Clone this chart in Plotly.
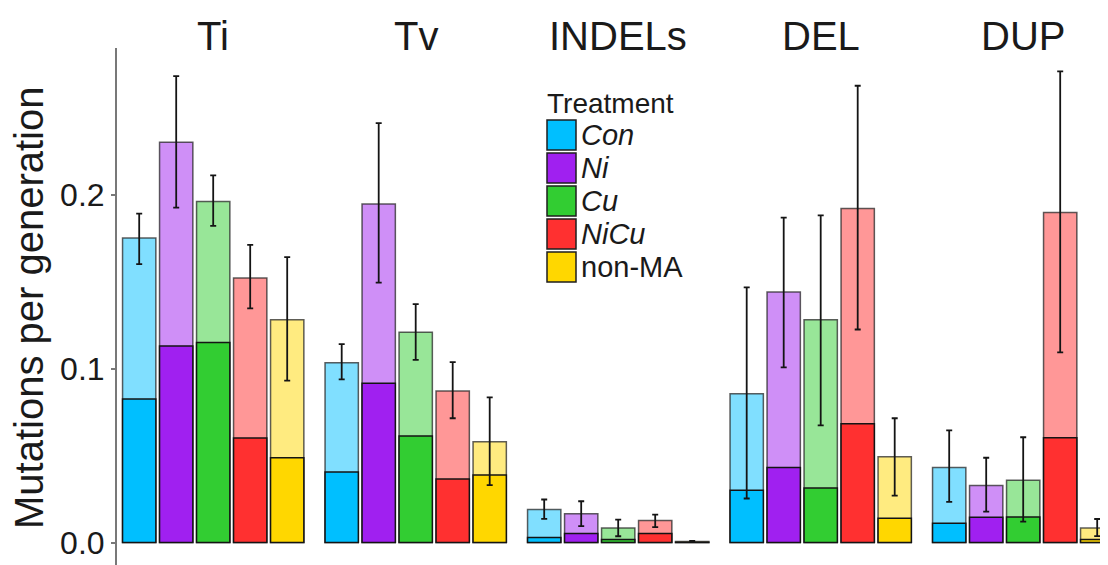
import plotly.graph_objects as go
from plotly.subplots import make_subplots

# ---------------- data ----------------
categories = ["Ti", "Tv", "INDELs", "DEL", "DUP"]
treatments = ["Con", "Ni", "Cu", "NiCu", "non-MA"]
legend_labels = ["<i>Con</i>", "<i>Ni</i>", "<i>Cu</i>", "<i>NiCu</i>", "non-MA"]

# total rate per generation (light bars), one list per treatment, across categories
total_con = [0.175, 0.1033, 0.019, 0.0855, 0.0431]
total_ni = [0.230, 0.1945, 0.0165, 0.1439, 0.0327]
total_cu = [0.196, 0.1208, 0.0084, 0.128, 0.0358]
total_nicu = [0.152, 0.0871, 0.0126, 0.192, 0.1897]
total_nonma = [0.128, 0.0579, 0.0006, 0.0493, 0.0083]

# lower (solid) part
part_con = [0.0824, 0.0405, 0.0029, 0.030, 0.011]
part_ni = [0.113, 0.0915, 0.0052, 0.0431, 0.0145]
part_cu = [0.115, 0.0612, 0.0017, 0.0313, 0.0147]
part_nicu = [0.060, 0.0365, 0.0052, 0.0683, 0.0602]
part_nonma = [0.0487, 0.0388, 0.0002, 0.0139, 0.0017]

# error bar limits
hi_con = [0.189, 0.114, 0.0247, 0.1466, 0.0644]
hi_ni = [0.268, 0.241, 0.0237, 0.1867, 0.0487]
hi_cu = [0.211, 0.137, 0.0132, 0.188, 0.0605]
hi_nicu = [0.171, 0.1037, 0.016, 0.2625, 0.2708]
hi_nonma = [0.164, 0.0834, 0.0009, 0.0714, 0.0135]

lo_con = [0.160, 0.0938, 0.0136, 0.0253, 0.0234]
lo_ni = [0.1925, 0.1493, 0.0094, 0.1006, 0.0178]
lo_cu = [0.182, 0.1049, 0.0036, 0.0673, 0.012]
lo_nicu = [0.1346, 0.0714, 0.0088, 0.1224, 0.1093]
lo_nonma = [0.093, 0.033, 0.0003, 0.0269, 0.0037]

y_ticks = [0.0, 0.1, 0.2]
y_ticklabels = ["0.0", "0.1", "0.2"]

totals = [total_con, total_ni, total_cu, total_nicu, total_nonma]
parts = [part_con, part_ni, part_cu, part_nicu, part_nonma]
his = [hi_con, hi_ni, hi_cu, hi_nicu, hi_nonma]
los = [lo_con, lo_ni, lo_cu, lo_nicu, lo_nonma]

solid_colors = ["rgb(0,191,255)", "rgb(160,32,240)", "rgb(50,205,50)",
                "rgb(255,48,48)", "rgb(255,215,0)"]
light_colors = ["rgb(128,223,255)", "rgb(207,143,247)", "rgb(152,230,152)",
                "rgb(255,151,151)", "rgb(255,235,128)"]

# ---------------- layout geometry (page pixels) ----------------
OFF = 8                      # default body margin of the html page
PAGE_W, PAGE_H = 1108, 565
W, H = PAGE_W - OFF, PAGE_H - OFF
AX_X = 117                   # page x of the y axis
TOP_Y = 48                   # page y of the panel top
ZERO_Y = 542.5               # page y of value 0
PX_PER_UNIT_Y = 1740.0       # px per 1.0 of y
ML = AX_X - OFF
MT = TOP_Y - OFF
MB = 0
PW = W - ML
PH = H - MT - MB
unit = 37.0          # px per category unit
pitch = 202.5        # px between facet panels
panel_w = 5.2 * unit

FONT = "Liberation Sans, Arial, Helvetica, sans-serif"


def px_x(px):
    """page x -> paper x"""
    return (px - AX_X) / PW


def px_y(py):
    """page y -> paper y"""
    return (PAGE_H - py) / PH


fig = make_subplots(rows=1, cols=5, shared_yaxes=True, horizontal_spacing=0.01)

for j, cat in enumerate(categories):
    col = j + 1
    tot = [totals[i][j] for i in range(5)]
    prt = [parts[i][j] for i in range(5)]
    hi = [his[i][j] for i in range(5)]
    lo = [los[i][j] for i in range(5)]
    fig.add_trace(go.Bar(
        x=treatments, y=tot, width=0.9,
        marker=dict(color=light_colors, line=dict(color="rgba(40,40,40,0.75)", width=1.5)),
        showlegend=False, hoverinfo="skip"), row=1, col=col)
    fig.add_trace(go.Bar(
        x=treatments, y=prt, width=0.9,
        marker=dict(color=solid_colors, line=dict(color="rgb(20,20,20)", width=1.5)),
        showlegend=False, hoverinfo="skip"), row=1, col=col)
    fig.add_trace(go.Scatter(
        x=treatments, y=tot, mode="markers",
        marker=dict(size=1, color="rgba(0,0,0,0)"),
        error_y=dict(type="data", symmetric=False,
                     array=[h - t for h, t in zip(hi, tot)],
                     arrayminus=[t - l for t, l in zip(tot, lo)],
                     color="rgb(20,20,20)", thickness=1.8, width=3),
        showlegend=False, hoverinfo="skip"), row=1, col=col)

ymin = -(PAGE_H - ZERO_Y) / PX_PER_UNIT_Y
ymax = (ZERO_Y - TOP_Y) / PX_PER_UNIT_Y

for j in range(5):
    left = AX_X + pitch * j
    right = min(left + panel_w, PAGE_W)
    d0 = px_x(left)
    d1 = min(px_x(right), 1.0)
    xr_end = -0.6 + (right - left) / unit
    key = "xaxis" if j == 0 else f"xaxis{j+1}"
    fig.layout[key].update(domain=[d0, d1], range=[-0.6, xr_end],
                           showticklabels=False, ticks="", showgrid=False,
                           zeroline=False, showline=False, fixedrange=True)
    # facet title
    fig.add_annotation(text=categories[j], xref="paper", yref="paper",
                       x=px_x(left + panel_w / 2), y=px_y(36),
                       xanchor="center", yanchor="middle",
                       showarrow=False, font=dict(family=FONT, size=40, color="#1a1a1a"))

fig.update_yaxes(range=[ymin, ymax], showgrid=False, zeroline=False, fixedrange=True)
fig.layout.yaxis.update(showline=True, linecolor="rgb(120,120,120)", linewidth=2,
                        ticks="outside", ticklen=4, tickwidth=1.5, tickcolor="rgb(120,120,120)",
                        tickvals=y_ticks, ticktext=y_ticklabels, ticklabelstandoff=0,
                        tickfont=dict(family=FONT, size=32, color="#1a1a1a"))
for j in range(1, 5):
    fig.layout[f"yaxis{j+1}"].update(showline=False, showticklabels=False, ticks="")

# y-axis title
fig.add_annotation(text="Mutations per generation", xref="paper", yref="paper",
                   x=px_x(29), y=px_y(308), textangle=-90,
                   xanchor="center", yanchor="middle", showarrow=False,
                   font=dict(family=FONT, size=40, color="#1a1a1a"))

# legend (manual)
fig.add_annotation(text="Treatment", xref="paper", yref="paper",
                   x=px_x(545), y=px_y(103), xanchor="left", yanchor="middle",
                   showarrow=False, font=dict(family=FONT, size=28, color="#1a1a1a"))
for i, lab in enumerate(legend_labels):
    top = 120 + 33 * i
    fig.add_shape(type="rect", xref="paper", yref="paper",
                  x0=px_x(547), x1=px_x(576), y0=px_y(top + 30), y1=px_y(top),
                  fillcolor=solid_colors[i], line=dict(color="rgb(30,30,30)", width=1.5))
    fig.add_annotation(text=lab, xref="paper", yref="paper",
                       x=px_x(579), y=px_y(top + 15), xanchor="left", yanchor="middle",
                       showarrow=False, font=dict(family=FONT, size=29, color="#1a1a1a"))

fig.update_layout(width=W, height=H, barmode="overlay",
                  margin=dict(l=ML, r=0, t=MT, b=MB, autoexpand=False),
                  paper_bgcolor="white", plot_bgcolor="white",
                  showlegend=False, font=dict(family=FONT))

fig.write_html("out.html")
